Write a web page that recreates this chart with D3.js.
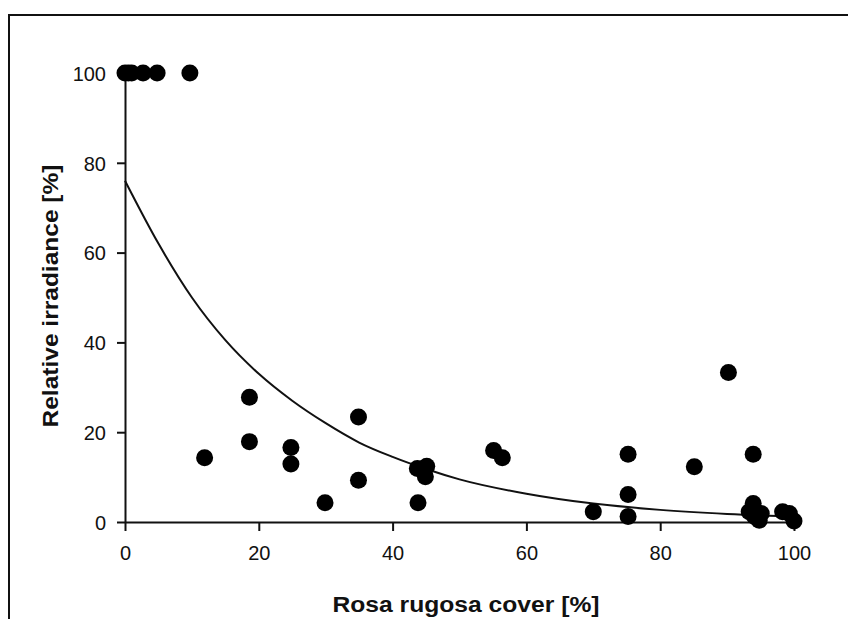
<!DOCTYPE html>
<html>
<head>
<meta charset="utf-8">
<style>
    body { margin: 0; background: #fff; }
    svg { display: block; }
    .tick text { font-family: "Liberation Sans", Arial, sans-serif; font-size: 20px; fill: #111; }
    .title { font-family: "Liberation Sans", Arial, sans-serif; font-size: 22px; font-weight: bold; fill: #111; }
</style>
</head>
<body>
<svg id="chart" width="848" height="619"></svg>
<script src="https://cdn.jsdelivr.net/npm/d3@7"></script>
<script>
    // Rosa rugosa cover (%) vs relative irradiance (%)
    let coverX = [0, 0.5, 1, 2.7, 4.8, 9.7,
        11.9, 18.6, 18.6, 24.8, 24.8, 29.9, 34.9, 34.9,
        43.8, 43.7, 45.1, 44.9, 55.1, 56.4,
        70.0, 75.2, 75.2, 75.2, 85.1, 90.2,
        93.9, 93.9, 93.3, 94.1, 95.1, 94.8, 98.3, 99.3, 100]
    let irradianceY = [100, 100, 100, 100, 100, 100,
        14.3, 27.8, 17.9, 16.6, 12.9, 4.3, 23.4, 9.3,
        4.3, 11.9, 12.4, 10.1, 15.9, 14.3,
        2.3, 15.1, 6.1, 1.2, 12.3, 33.3,
        15.1, 4.1, 2.3, 1.2, 1.9, 0.4, 2.3, 1.9, 0.2]

    // fitted curve
    let fitX = [0, 5, 10, 15, 20, 25, 30, 35, 40, 45, 50, 60, 70, 80, 90, 100]
    let fitY = [76, 62, 50, 40.5, 33, 27, 22, 17.7, 14.5, 11.8, 9.5, 6.3, 4.1, 2.7, 1.8, 1.2]

    let xTicks = [0, 20, 40, 60, 80, 100]
    let yTicks = [0, 20, 40, 60, 80, 100]

    let svg = d3.select("#chart")

    // frame (only top and left edges visible)
    svg.append("path")
        .attr("d", "M9,619 L9,15 L848,15")
        .attr("fill", "none")
        .attr("stroke", "#111")
        .attr("stroke-width", 2)

    let xScale = d3.scaleLinear().domain([0, 100]).range([125, 794])
    let yScale = d3.scaleLinear().domain([0, 100]).range([522, 73])

    let xAxis = svg.append("g")
        .attr("transform", "translate(0," + yScale(0) + ")")
        .call(d3.axisBottom(xScale).tickValues(xTicks).tickSize(9).tickPadding(15).tickSizeOuter(0))
    let yAxis = svg.append("g")
        .attr("transform", "translate(" + xScale(0) + ",0)")
        .call(d3.axisLeft(yScale).tickValues(yTicks).tickSize(8).tickPadding(11).tickSizeOuter(0))

    svg.selectAll(".domain").attr("stroke", "#111").attr("stroke-width", 2)
    svg.selectAll(".tick line").attr("stroke", "#111").attr("stroke-width", 2)
    yAxis.selectAll(".tick text").attr("dy", "0.36em")

    let fitLine = d3.line()
        .x((d, i) => xScale(d))
        .y((d, i) => yScale(fitY[i]))
        .curve(d3.curveMonotoneX)

    svg.append("path")
        .datum(fitX)
        .attr("d", fitLine)
        .attr("fill", "none")
        .attr("stroke", "#111")
        .attr("stroke-width", 2)

    svg.selectAll("circle.pt")
        .data(coverX)
        .enter()
        .append("circle")
        .attr("class", "pt")
        .attr("cx", d => xScale(d))
        .attr("cy", (d, i) => yScale(irradianceY[i]))
        .attr("r", 8.5)
        .attr("fill", "#000")

    svg.append("text")
        .attr("class", "title")
        .attr("x", 466)
        .attr("y", 612)
        .attr("text-anchor", "middle")
        .attr("textLength", 267)
        .attr("lengthAdjust", "spacingAndGlyphs")
        .text("Rosa rugosa cover [%]")

    svg.append("text")
        .attr("class", "title")
        .attr("transform", "translate(58,296) rotate(-90)")
        .attr("text-anchor", "middle")
        .attr("textLength", 263)
        .attr("lengthAdjust", "spacingAndGlyphs")
        .text("Relative irradiance [%]")
</script>
</body>
</html>
